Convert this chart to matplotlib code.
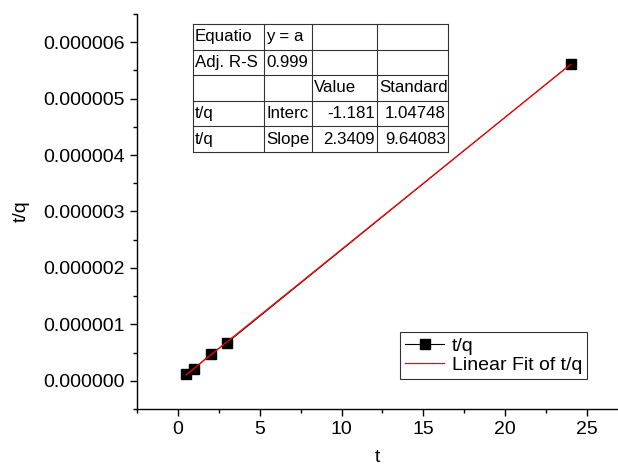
import numpy as np
import matplotlib.pyplot as plt
from matplotlib.ticker import MultipleLocator, FormatStrFormatter
from matplotlib.lines import Line2D

plt.rcParams['font.family'] = ['Liberation Sans', 'DejaVu Sans']

# === Données ===
t = [0.5, 1, 2, 3, 24]
tq = [0.12e-6, 0.21e-6, 0.48e-6, 0.67e-6, 5.61e-6]
intercept = -1.181e-8
slope = 2.3409e-7

# tableau de résultats du fit (texte tel qu'affiché)
table_rows = [
    ["Equatio", "y = a", "", ""],
    ["Adj. R-S", "0.999", "", ""],
    ["", "", "Value", "Standard"],
    ["t/q", "Interc", "-1.181", "1.04748"],
    ["t/q", "Slope", "2.3409", "9.64083"],
]
right_aligned = {(3, 2), (3, 3), (4, 2), (4, 3)}

# === Figure ===
fig = plt.figure(figsize=(6.18, 4.65), dpi=100)
ax = fig.add_axes([137 / 618, 1 - 409 / 465, 1 - 137 / 618, 395 / 465])

ax.plot(t, tq, color="black", lw=0.6, marker="s", ms=6.5, zorder=3)
xf = np.array([min(t), max(t)])
ax.plot(xf, intercept + slope * xf, color="#ff0000", lw=0.9, zorder=4)

ax.set_xlim(-2.5, 26.9)
ax.set_ylim(-0.5e-6, 6.5e-6)
ax.xaxis.set_major_locator(MultipleLocator(5))
ax.xaxis.set_minor_locator(MultipleLocator(2.5))
ax.yaxis.set_major_locator(MultipleLocator(1e-6))
ax.yaxis.set_minor_locator(MultipleLocator(0.5e-6))
ax.yaxis.set_major_formatter(FormatStrFormatter("%.6f"))
ax.yaxis.get_offset_text().set_visible(False)

for s in ["top", "right"]:
    ax.spines[s].set_visible(False)
for s in ["left", "bottom"]:
    ax.spines[s].set_linewidth(1.0)
ax.tick_params(which="major", direction="out", length=5, width=1, labelsize=14)
ax.tick_params(which="minor", direction="out", length=3, width=1)

ax.set_xlabel("t", fontsize=14, labelpad=8)
ax.set_ylabel("t/q", fontsize=14, labelpad=10)

# === Tableau ===
col_x = [193, 264, 312, 377, 448]
top, row_h = 24, 25.6
def to_ax(px, py):
    return (px - 137) / 481, (409 - py) / 395

for i, row in enumerate(table_rows):
    for j, txt in enumerate(row):
        if (i, j) in right_aligned:
            x, y = to_ax(col_x[j + 1] - 2, top + (i + 0.5) * row_h)
            ha = "right"
        else:
            x, y = to_ax(col_x[j] + 2, top + (i + 0.5) * row_h)
            ha = "left"
        ax.text(x, y, txt, transform=ax.transAxes, ha=ha, va="center", fontsize=12.2)

bottom = top + len(table_rows) * row_h
for cx in col_x:
    (x0, y0), (x1, y1) = to_ax(cx, top), to_ax(cx, bottom)
    ax.add_line(Line2D([x0, x1], [y0, y1], transform=ax.transAxes, color="#333333", lw=0.8))
for i in range(len(table_rows) + 1):
    (x0, y0), (x1, y1) = to_ax(col_x[0], top + i * row_h), to_ax(col_x[-1], top + i * row_h)
    ax.add_line(Line2D([x0, x1], [y0, y1], transform=ax.transAxes, color="#333333", lw=0.8))

# === Légende ===
handles = [
    Line2D([], [], color="black", lw=0.8, marker="s", ms=6.5),
    Line2D([], [], color="#ff0000", lw=0.9),
]
leg = ax.legend(handles, ["t/q", "Linear Fit of t/q"], loc="lower right",
                bbox_to_anchor=(to_ax(587, 379)), fontsize=14, frameon=True,
                fancybox=False, borderpad=0.25, handlelength=2.0, handletextpad=0.4,
                labelspacing=0.1, borderaxespad=0)
leg.get_frame().set_edgecolor("black")
leg.get_frame().set_linewidth(0.8)

fig.savefig("out.png", dpi=100)
